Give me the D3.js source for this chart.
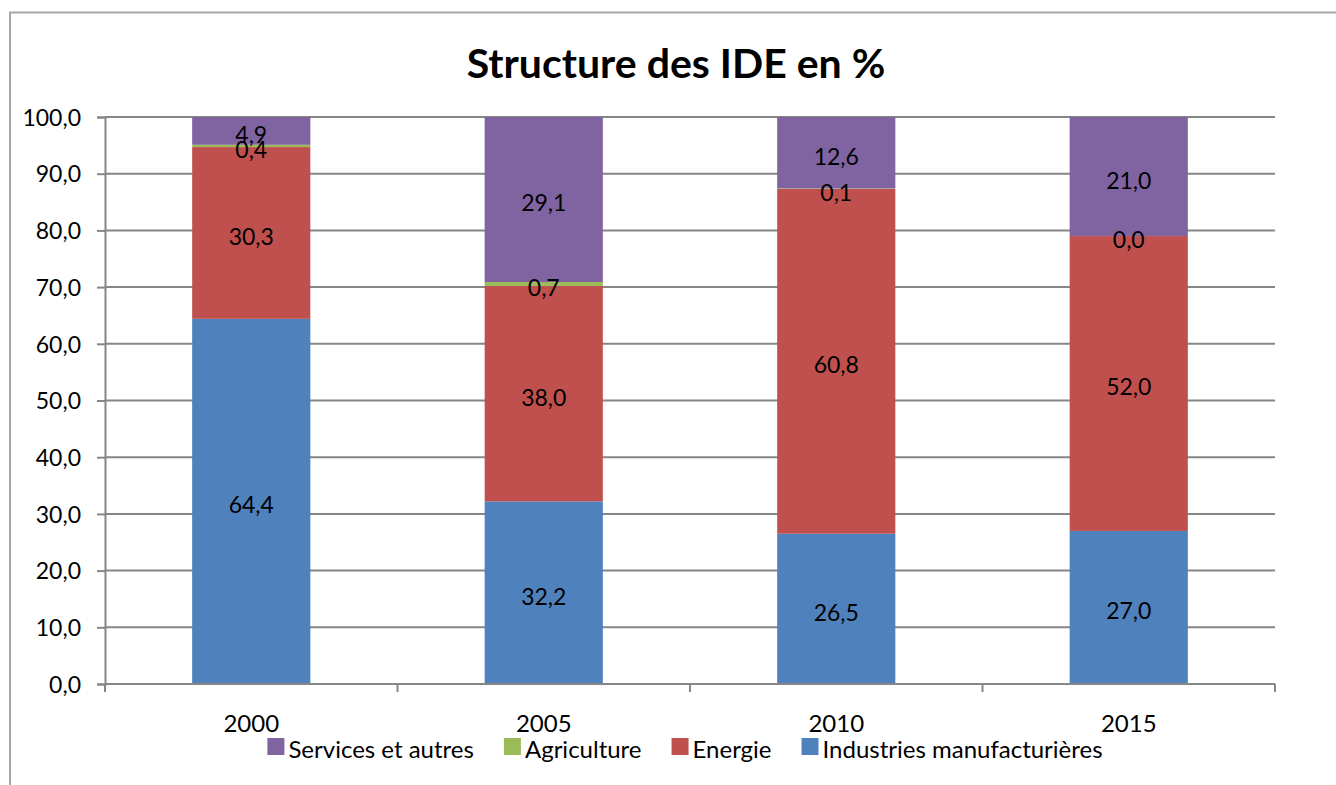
<!DOCTYPE html>
<html>
<head>
<meta charset="utf-8">
<script src="https://cdn.jsdelivr.net/npm/d3@7"></script>
<style>
  body { margin: 0; background: #fff; }
  text { font-family: Lato, "Open Sans", sans-serif; fill: #000; }
</style>
</head>
<body>
<div id="graph"></div>
<script>
// donnees
const years = ["2000", "2005", "2010", "2015"];
const industries = [64.4, 32.2, 26.5, 27.0];
const energie = [30.3, 38.0, 60.8, 52.0];
const agriculture = [0.4, 0.7, 0.1, 0.0];
const services = [4.9, 29.1, 12.6, 21.0];
const yTicks = [0, 10, 20, 30, 40, 50, 60, 70, 80, 90, 100];

const seriesNames = ["Industries manufacturières", "Energie", "Agriculture", "Services et autres"];
const seriesKeys = ["ind", "ene", "agr", "ser"];
const colors = {ind: "#4f81bd", ene: "#c0504d", agr: "#9bbb59", ser: "#8064a2"};

const rows = years.map((y, i) => ({
  year: y, ind: industries[i], ene: energie[i], agr: agriculture[i], ser: services[i]
}));

const W = 1336, H = 785;
let margin = {top: 117, right: 61, bottom: 101, left: 105},
    width = W - margin.left - margin.right,
    height = H - margin.top - margin.bottom;

const fmt = v => d3.format(".1f")(v).replace(".", ",");
const grey = "#868686";

let svg = d3.select("#graph").append("svg")
  .attr("width", W).attr("height", H);

// cadre du graphique
svg.append("rect")
  .attr("x", 10).attr("y", 12.5)
  .attr("width", 1400).attr("height", 900)
  .attr("fill", "none").attr("stroke", "#a6a6a6").attr("stroke-width", 2);

svg.append("text")
  .attr("x", 676).attr("y", 78)
  .attr("text-anchor", "middle")
  .style("font-size", "41px").style("font-weight", "bold")
  .text("Structure des IDE en %");

let g = svg.append("g")
  .attr("transform", "translate(" + margin.left + "," + margin.top + ")");

let x = d3.scaleBand().domain(years).range([0, width]).paddingInner(0).paddingOuter(0);
let y = d3.scaleLinear().domain([0, 100]).range([height, 0]);
const barW = x.bandwidth() * 0.404;

// grille
g.append("g").selectAll("line")
  .data(yTicks.filter(t => t > 0))
  .join("line")
  .attr("x1", 0).attr("x2", width)
  .attr("y1", d => y(d)).attr("y2", d => y(d))
  .attr("stroke", grey).attr("stroke-width", 2);

// axe Y
let yAxis = g.append("g")
  .call(d3.axisLeft(y).tickValues(yTicks).tickSize(8).tickPadding(16).tickFormat(fmt));
yAxis.select(".domain").attr("stroke", grey).attr("stroke-width", 2);
yAxis.selectAll(".tick line").attr("stroke", grey).attr("stroke-width", 2);
yAxis.selectAll(".tick text")
  .style("font-size", "23px").style("font-family", "Lato")
  .attr("dy", "0.36em");

// barres empilees
let stack = d3.stack().keys(seriesKeys)(rows);

let layers = g.append("g").selectAll("g")
  .data(stack)
  .join("g")
  .attr("fill", d => colors[d.key]);

layers.selectAll("rect")
  .data(d => d)
  .join("rect")
  .attr("x", d => x(d.data.year) + (x.bandwidth() - barW) / 2)
  .attr("width", barW)
  .attr("y", d => y(d[1]))
  .attr("height", d => y(d[0]) - y(d[1]));

// etiquettes de valeurs
stack.forEach(layer => {
  g.append("g").selectAll("text")
    .data(layer)
    .join("text")
    .attr("x", d => x(d.data.year) + x.bandwidth() / 2)
    .attr("y", d => y((d[0] + d[1]) / 2) + 12)
    .attr("text-anchor", "middle")
    .style("font-size", "23px")
    .text(d => fmt(d.data[layer.key]));
});

// axe X
let xAxis = g.append("g")
  .attr("transform", "translate(0," + height + ")")
  .call(d3.axisBottom(x).tickSize(0).tickPadding(0));
xAxis.select(".domain").remove();
xAxis.selectAll(".tick text")
  .attr("y", 48).attr("dy", 0)
  .style("font-size", "24px").style("font-family", "Lato");
g.append("line")
  .attr("x1", 0).attr("x2", width)
  .attr("y1", height).attr("y2", height)
  .attr("stroke", grey).attr("stroke-width", 2);
g.append("g").selectAll("line")
  .data(d3.range(years.length + 1))
  .join("line")
  .attr("x1", i => i * x.step()).attr("x2", i => i * x.step())
  .attr("y1", height).attr("y2", height + 8)
  .attr("stroke", grey).attr("stroke-width", 2);

// legende
const legendOrder = ["ser", "agr", "ene", "ind"];
let legend = svg.append("g");
let items = legend.selectAll("g")
  .data(legendOrder)
  .join("g");
items.append("rect")
  .attr("width", 17).attr("height", 17)
  .attr("y", 738)
  .attr("fill", d => colors[d]);
items.append("text")
  .attr("x", 21).attr("y", 758)
  .style("font-size", "24px")
  .text(d => seriesNames[seriesKeys.indexOf(d)]);

let pos = 0, offsets = [];
items.each(function () {
  offsets.push(pos);
  pos += 21 + d3.select(this).select("text").node().getComputedTextLength() + 30;
});
const totalW = pos - 30;
const startX = 685 - totalW / 2;
items.attr("transform", (d, i) => "translate(" + (startX + offsets[i]) + ",0)");
</script>
</body>
</html>
